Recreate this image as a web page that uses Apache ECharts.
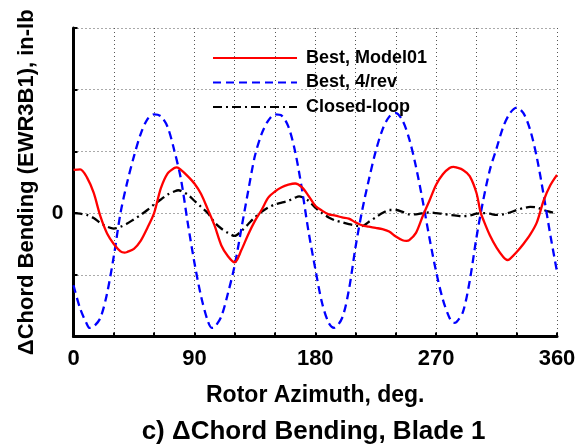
<!DOCTYPE html>
<html><head><meta charset="utf-8">
<script src="https://cdn.jsdelivr.net/npm/echarts@6/dist/echarts.min.js"></script>
<style>html,body{margin:0;padding:0;background:#fff}#c{width:586px;height:445px}</style>
</head><body><div id="c"></div>
<script>
const seriesNames = ['Best, Model01', 'Best, 4/rev', 'Closed-loop'];
const xTickLabels = ['0', '90', '180', '270', '360'];
const yTickLabels = ['0'];

const azModel01 = [0,5,10,15,20,25,30,35,38,40,45,50,55,60,65,70,75,77,80,85,90,95,100,105,110,115,120,125,130,135,140,145,150,155,160,165,170,175,180,185,190,195,200,205,210,215,220,225,230,235,240,245,248,250,255,260,265,270,275,280,283,285,290,295,300,303,305,310,315,320,323,325,330,335,340,345,350,355,360];
const valModel01 = [0.70,0.71,0.58,0.33,-0.05,-0.33,-0.50,-0.62,-0.64,-0.63,-0.58,-0.45,-0.24,0.00,0.40,0.64,0.73,0.74,0.70,0.60,0.48,0.31,0.06,-0.20,-0.52,-0.70,-0.80,-0.60,-0.35,-0.13,0.05,0.25,0.35,0.42,0.46,0.48,0.42,0.28,0.12,0.04,-0.02,-0.04,-0.07,-0.09,-0.15,-0.20,-0.22,-0.24,-0.26,-0.30,-0.38,-0.44,-0.45,-0.44,-0.32,-0.05,0.20,0.46,0.63,0.73,0.75,0.74,0.70,0.60,0.33,0.02,-0.10,-0.36,-0.56,-0.71,-0.76,-0.74,-0.63,-0.50,-0.35,-0.15,0.20,0.45,0.62];

const az4rev = [0,5,10,12,15,20,25,30,35,40,45,50,55,60,65,70,75,80,85,90,95,100,103,105,110,115,120,125,130,135,140,145,150,155,160,165,170,175,180,185,190,194,200,205,210,215,220,225,230,235,240,245,250,255,260,265,270,275,280,283,285,290,295,300,305,310,315,320,325,330,335,340,345,350,355,360];
const val4rev = [-1.17,-1.55,-1.80,-1.86,-1.84,-1.70,-1.30,-0.70,0.00,0.50,0.92,1.28,1.52,1.60,1.57,1.40,1.02,0.55,-0.15,-0.80,-1.35,-1.75,-1.86,-1.85,-1.68,-1.30,-0.85,-0.25,0.35,0.92,1.28,1.50,1.60,1.58,1.40,1.00,0.40,-0.30,-0.90,-1.45,-1.78,-1.86,-1.70,-1.25,-0.55,0.05,0.55,1.00,1.35,1.56,1.62,1.50,1.20,0.75,0.20,-0.40,-0.95,-1.40,-1.70,-1.78,-1.77,-1.60,-1.10,-0.40,0.20,0.70,1.05,1.40,1.62,1.71,1.62,1.35,0.90,0.30,-0.35,-0.95];

const azClosed = [0,5,10,15,20,25,30,35,40,45,50,55,60,65,70,75,78,80,85,90,95,100,105,110,115,120,125,130,135,140,145,150,155,160,165,168,170,175,180,185,190,195,200,205,210,215,220,225,230,235,240,245,250,255,260,265,270,275,280,285,290,295,300,305,310,315,320,325,330,335,340,345,350,355,360];
const valClosed = [0.00,-0.01,-0.03,-0.08,-0.16,-0.22,-0.25,-0.22,-0.17,-0.10,-0.03,0.05,0.14,0.22,0.30,0.35,0.37,0.36,0.30,0.20,0.10,0.00,-0.15,-0.25,-0.32,-0.37,-0.29,-0.18,-0.07,0.02,0.09,0.14,0.17,0.20,0.25,0.27,0.26,0.20,0.09,0.00,-0.07,-0.12,-0.15,-0.18,-0.20,-0.21,-0.14,-0.07,0.00,0.05,0.05,0.02,-0.02,-0.02,0.00,0.01,0.00,-0.01,-0.03,-0.04,-0.05,-0.04,-0.01,0.00,-0.01,-0.03,-0.02,0.01,0.05,0.08,0.10,0.09,0.05,0.02,-0.01];

const pairs = (a, v) => a.map((x, i) => [x, v[i]]);
const FONT = '"Liberation Sans", Arial, Helvetica, sans-serif';
const chart = echarts.init(document.getElementById('c'), null, {renderer: 'canvas'});
chart.setOption({
  animation: false,
  backgroundColor: '#fff',
  title: {
    text: 'c) \u0394Chord Bending, Blade 1',
    left: 308.5, top: 414, textAlign: 'center',
    textStyle: {fontFamily: FONT, fontWeight: 'bold', fontSize: 26, color: '#000'}
  },
  legend: {
    orient: 'vertical', left: 207, top: 44,
    itemWidth: 84, itemHeight: 14, itemGap: 6.5,
    itemStyle: {opacity: 0},
    textStyle: {fontFamily: FONT, fontWeight: 'bold', fontSize: 18, color: '#000', padding: [0, 0, 0, 4]},
    data: seriesNames
  },
  grid: {left: 73.5, right: 29, top: 28, bottom: 108.5},
  xAxis: {
    type: 'value', min: 0, max: 360, interval: 30,
    name: 'Rotor Azimuth, deg.', nameLocation: 'middle', nameGap: 48,
    nameTextStyle: {fontFamily: FONT, fontWeight: 'bold', fontSize: 23, color: '#000'},
    axisLine: {show: true, onZero: false, lineStyle: {color: '#000', width: 3}},
    axisTick: {show: true, inside: true, length: 4, lineStyle: {color: '#000', width: 2}},
    axisLabel: {
      margin: 11, fontFamily: FONT, fontWeight: 'bold', fontSize: 22, color: '#000',
      formatter: v => (v % 90 === 0 ? xTickLabels[v / 90] : '')
    },
    splitLine: {show: true, lineStyle: {color: '#555', type: [1, 3], width: 1}}
  },
  yAxis: {
    type: 'value', min: -2, max: 3, interval: 1,
    name: '\u0394Chord Bending (EWR3B1), in-lb', nameLocation: 'middle', nameGap: 36,
    nameTextStyle: {fontFamily: FONT, fontWeight: 'bold', fontSize: 22, color: '#000'},
    axisLine: {show: true, onZero: false, lineStyle: {color: '#000', width: 3}},
    axisTick: {show: true, inside: true, length: 4, lineStyle: {color: '#000', width: 2}},
    axisLabel: {
      margin: 10, fontFamily: FONT, fontWeight: 'bold', fontSize: 21, color: '#000',
      formatter: v => (v === 0 ? yTickLabels[0] : '')
    },
    splitLine: {show: true, lineStyle: {color: '#555', type: [1, 3], width: 1}}
  },
  series: [
    {name: seriesNames[1], type: 'line', data: pairs(az4rev, val4rev), symbol: 'none', smooth: 0.3,
     lineStyle: {color: '#0000ff', width: 2.3, type: [8, 5]}, itemStyle: {color: '#0000ff'}, z: 3},
    {name: seriesNames[2], type: 'line', data: pairs(azClosed, valClosed), symbol: 'none', smooth: 0.3,
     lineStyle: {color: '#000', width: 2.3, type: [9, 4, 2, 4]}, itemStyle: {color: '#000'}, z: 2},
    {name: seriesNames[0], type: 'line', data: pairs(azModel01, valModel01), symbol: 'none', smooth: 0.3,
     lineStyle: {color: '#ff0000', width: 2.3}, itemStyle: {color: '#ff0000'}, z: 4}
  ]
});
</script></body></html>
